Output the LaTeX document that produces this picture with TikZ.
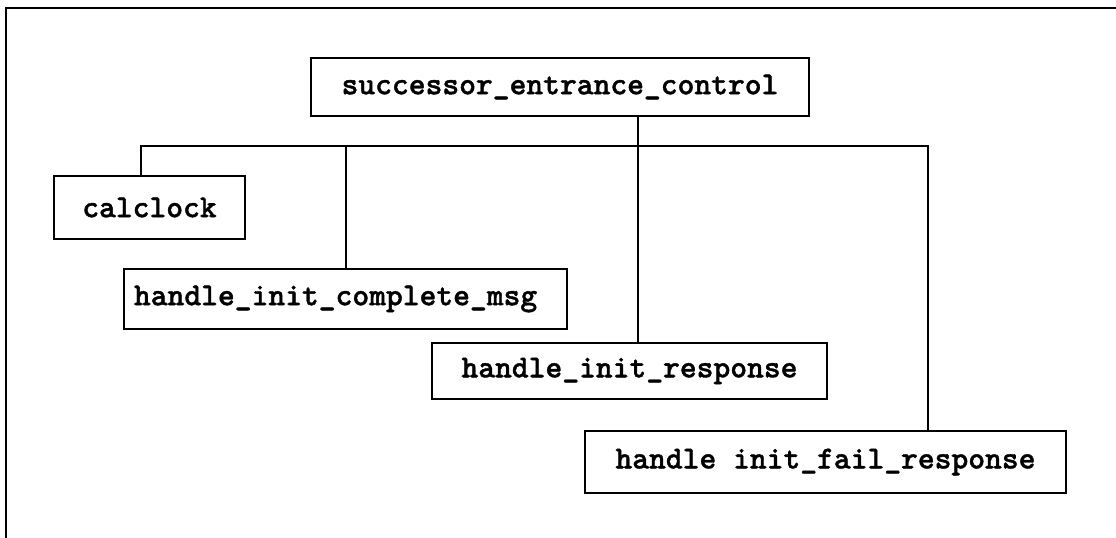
\documentclass[tikz,border=0pt]{standalone}
\usepackage{fontspec}
\usepackage{tikz}
\newfontfamily\modfont{lmmonolt10-bold.otf}[FakeBold=1.2]

\begin{document}
\begin{tikzpicture}[x=0.5pt,y=-0.5pt,line cap=rect,
  modbox/.style={draw,line width=1.3pt,inner sep=0pt,font=\fontsize{16}{18}\modfont},
  link/.style={line width=1.1pt}]
\useasboundingbox (0,0) rectangle (1116,537);
% frame
\draw[line width=1.1pt] (6,537) -- (6,8) -- (1116,8);
% modules
\node[modbox,minimum width=249pt,minimum height=29pt] (root) at (560,87) {successor\_entrance\_control};
\node[modbox,minimum width=95.5pt,minimum height=31.5pt] (calclock) at (149.5,207.5) {calclock};
\node[modbox,text width=211.5pt,align=left,inner xsep=5pt,minimum height=30pt] (complete) at (345.5,299) {handle\_init\_complete\_msg};
\node[modbox,minimum width=197.5pt,minimum height=28pt] (response) at (629.5,371) {handle\_init\_response};
\node[modbox,minimum width=240.5pt,minimum height=31pt] (fail) at (825.5,462) {handle init\_fail\_response};
% call tree
\coordinate (stem) at (638,146);
\coordinate (jcal) at (141,146);
\coordinate (jcom) at (346,146);
\coordinate (jfail) at (928,146);
\draw[link] (root.south -| stem) -- (stem);
\draw[link] (jcal) -- (jfail);
\draw[link] (jcal) -- (jcal |- calclock.north);
\draw[link] (jcom) -- (jcom |- complete.north);
\draw[link] (stem) -- (stem |- response.north);
\draw[link] (jfail) -- (jfail |- fail.north);
\end{tikzpicture}
\end{document}
